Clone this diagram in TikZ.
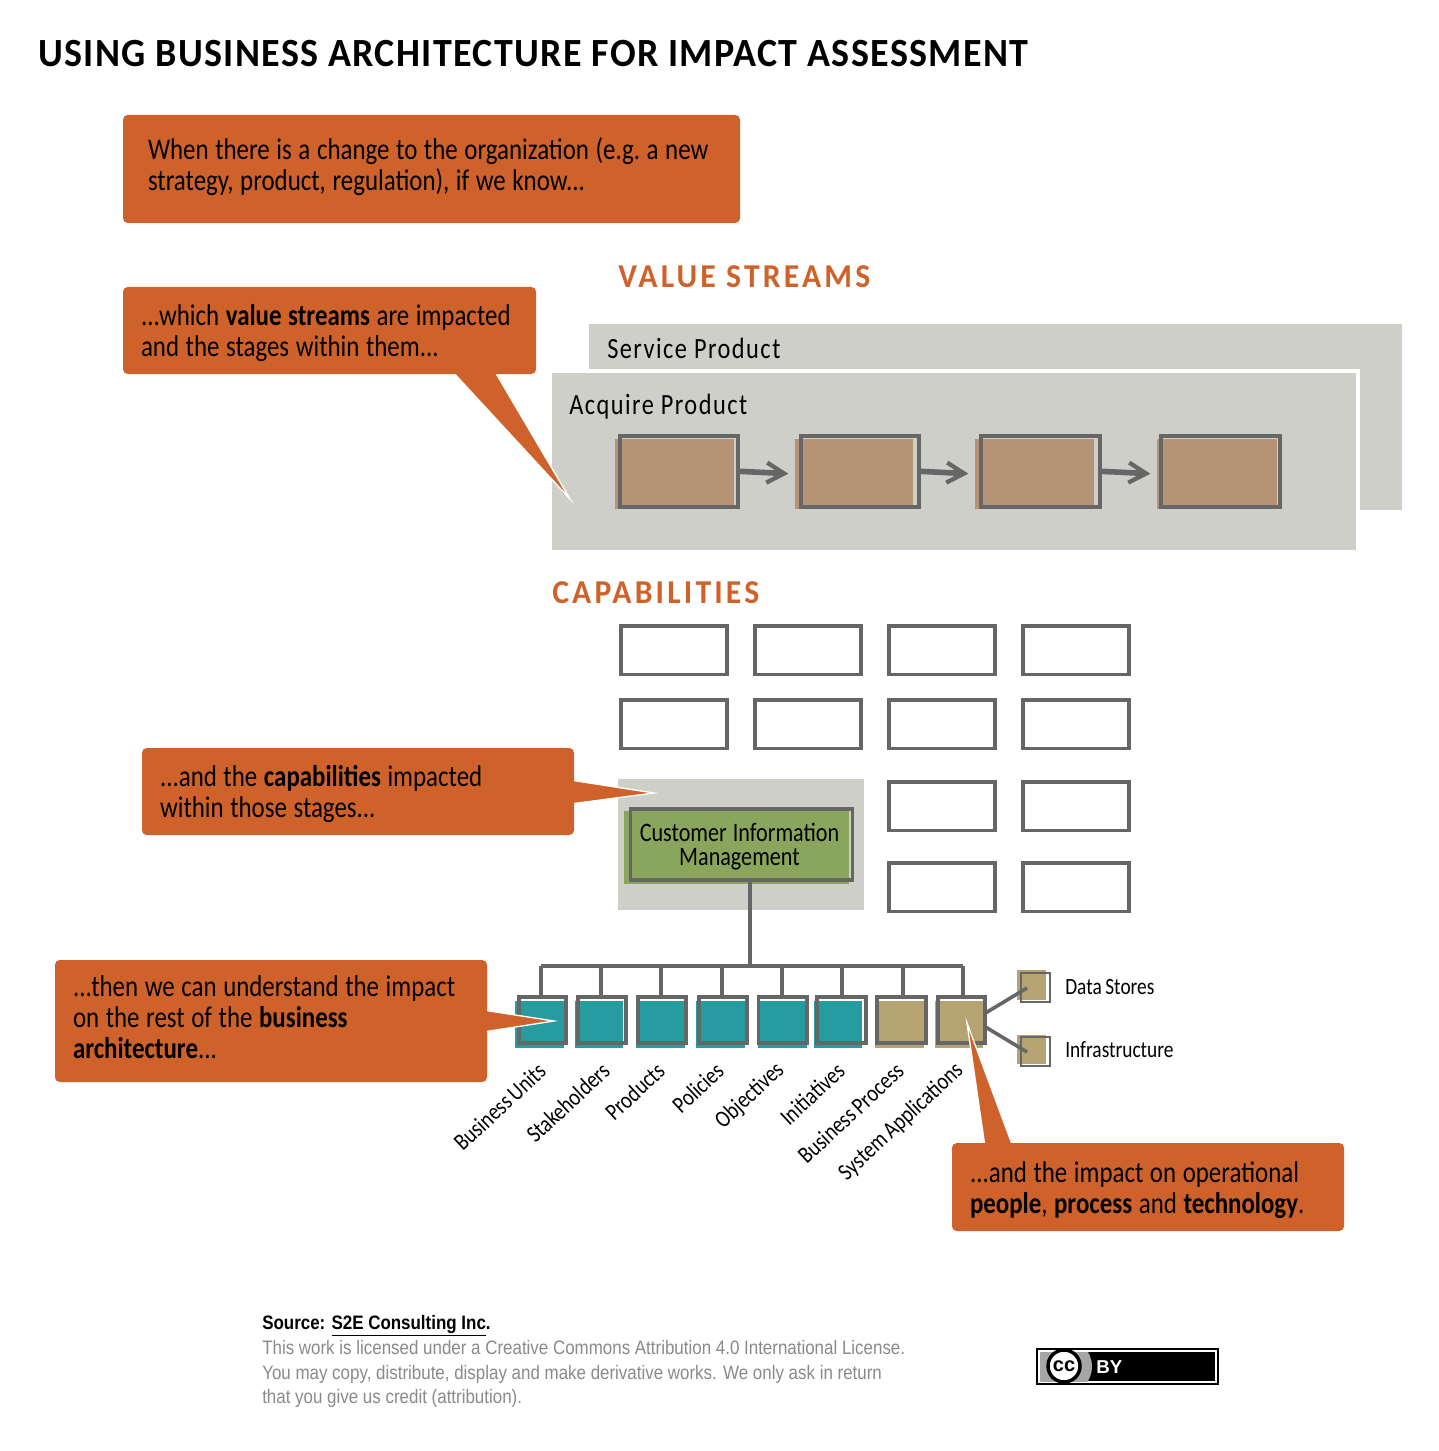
\documentclass[tikz,border=0pt]{standalone}
\usepackage{fontspec}
\usetikzlibrary{arrows.meta}
\newfontfamily\hand[FakeStretch=0.83,WordSpace=0.8]{Carlito}
\newfontfamily\handw[FakeStretch=0.83,LetterSpace=5]{Carlito}
\newfontfamily\caps[FakeStretch=0.95,LetterSpace=9.5]{Carlito}
\newfontfamily\ttlf[FakeStretch=0.95,LetterSpace=3.3]{Carlito}
\newfontfamily\foot[FakeStretch=0.87]{Liberation Sans}
\newfontfamily\badgef{Liberation Sans}
\definecolor{org}{HTML}{CE622A}
\definecolor{pan}{HTML}{CECFC8}
\definecolor{edge}{HTML}{666666}
\definecolor{brn}{HTML}{B69375}
\definecolor{grn}{HTML}{8AA65C}
\definecolor{teal2}{HTML}{259C9F}
\definecolor{tan2}{HTML}{B5A472}
\definecolor{ftxt}{HTML}{8A8A8A}
\tikzset{
  px/.style={x=0.75pt,y=-0.75pt},
  box/.style={rectangle,inner sep=0pt,outer sep=0pt,anchor=center},
  panel/.style={box,fill=pan},
  swatch/.style={box},
  frame/.style={box,draw=edge,line width=3pt,fill=none},
  thinframe/.style={box,draw=edge,line width=2pt,fill=none},
  capbox/.style={box,draw=edge,line width=2.7pt,fill=white},
  flow/.style={draw=edge,line width=4.2pt,-{Straight Barb[length=13pt,width=15pt,line width=3.2pt]},shorten >=5pt},
  tree/.style={draw=edge,line width=2.7pt},
  treethin/.style={draw=edge,line width=2.5pt},
  call/.style={rectangle,rounded corners=3.5pt,fill=org,inner ysep=0pt,outer sep=0pt,align=left,text=black,
    font=\hand\fontsize{22.5}{23.3}\selectfont},
  tail/.style={fill=org,draw=white,line width=1pt,line join=miter,miter limit=30},
  head/.style={anchor=base west,text=org,inner sep=0pt,font=\caps\bfseries\fontsize{25}{28}\selectfont},
  ttl/.style={anchor=base west,text=black,inner sep=0pt,font=\ttlf\bfseries\fontsize{30}{32}\selectfont},
  plain/.style={anchor=base west,inner sep=0pt,font=\handw\fontsize{22}{24}\selectfont},
  slant/.style={anchor=east,inner sep=0pt,rotate=43,font=\hand\fontsize{18}{19}\selectfont},
  side/.style={anchor=base west,inner sep=0pt,font=\hand\fontsize{17.5}{19}\selectfont},
  ftr/.style={anchor=base west,inner sep=0pt,text=ftxt,font=\foot\fontsize{14.6}{16}\selectfont},
}
% name, style, x1,y1,x2,y2 in pixels
\newcommand{\pbx}[6]{\node[#2,minimum width={(#5-#3)*0.75pt},minimum height={(#6-#4)*0.75pt}] (#1) at ({(#3+#5)/2},{(#4+#6)/2}) {};}
% name, padding, x1,y1,x2,y2, text
\newcommand{\calloutbox}[7]{\node[call,inner xsep=#2*0.75pt,text width={(#5-#3-2*#2)*0.75pt},minimum height={(#6-#4)*0.75pt}] (#1) at ({(#3+#5)/2},{(#4+#6)/2}) {\spaceskip=.22em\relax\xspaceskip=.22em\relax\hyphenpenalty=10000\relax\rule{0pt}{20pt}#7};}
\begin{document}
\begin{tikzpicture}[px]
\useasboundingbox[fill=white] (0,0) rectangle (1438,1451);
\node[ttl] (title) at (38,67) {USING BUSINESS ARCHITECTURE FOR IMPACT ASSESSMENT};
\node[head] (vs) at (618,288) {VALUE STREAMS};
\node[head] (cap) at (552,603) {CAPABILITIES};
% value stream panels
\pbx{svc}{panel}{589}{324}{1402}{510}
\node[plain] (svct) at (607,358) {Service Product};
\fill[white] (548,369) rectangle (1360,554);
\pbx{acq}{panel}{552}{373}{1356}{550}
\node[plain] (acqt) at (569,414) {Acquire Product};
% stages
\pbx{f1}{swatch,fill=brn}{615}{439}{734}{509}
\pbx{f2}{swatch,fill=brn}{795}{439}{913}{509}
\pbx{f3}{swatch,fill=brn}{975}{439}{1094}{509}
\pbx{f4}{swatch,fill=brn}{1157}{439}{1277}{509}
\pbx{s1}{frame}{620}{435.5}{738}{507}
\pbx{s2}{frame}{800.5}{435.5}{918.5}{507}
\pbx{s3}{frame}{981}{435.5}{1099.5}{507}
\pbx{s4}{frame}{1161}{435.5}{1280}{507}
\draw[flow] (s1.east) -- (f2.west);
\draw[flow] (s2.east) -- (f3.west);
\draw[flow] (s3.east) -- (f4.west);
% capabilities
\foreach \n/\x/\y in {a/621/626,b/755/626,c/889/626,d/1023/626,e/621/700,f/755/700,g/889/700,h/1023/700,i/889/782,j/1023/782,k/889/863,l/1023/863}
  {\pbx{cap\n}{capbox}{\x}{\y}{\x+106}{\y+48.5}}
\pbx{hl}{panel}{618}{779}{864}{910}
\pbx{cimf}{swatch,fill=grn}{624}{811}{849}{884}
\node[box,draw=edge,line width=2.8pt,minimum width={222*0.75pt},minimum height={71*0.75pt},align=center,
  font=\hand\fontsize{20}{18}\selectfont] (cim) at (741.5,844.5) {\spaceskip=.22em\relax\rule{0pt}{17pt}Customer Information\hspace*{3pt}\\Management\hspace*{3pt}};
% tree
\coordinate (bus) at (750,966);
\coordinate (busl) at (541,966);
\coordinate (busr) at (963,966);
\draw[tree] (cim.south -| bus) -- (bus);
\draw[tree,line width=3.2pt] (busl) -- (busr);
\foreach \n/\a/\b/\c/\d/\col in {1/514.5/519/564/566/teal2,2/574.5/578/623/626/teal2,3/636/638/684.5/686/teal2,4/696/699/745/747/teal2,5/757.5/758.5/806.5/807/teal2,6/814/817/862/866/teal2,7/875/877/924/926/tan2,8/934.5/938/983/985/tan2}
  {\pbx{q\n}{swatch,fill=\col}{\a}{1001}{\c}{1048}
   \pbx{o\n}{thinframe,line width=2.5pt}{\b}{997}{\d}{1043}}
\foreach \n/\x in {1/541,2/601,3/661,4/722,5/782,6/842,7/903,8/963}
  {\coordinate (st\n) at (\x,966);
   \draw[treethin] (st\n) -- (st\n |- o\n.north);}
% side items
\pbx{dsf}{swatch,fill=tan2}{1017}{970}{1046}{1000}
\pbx{ds}{thinframe}{1021}{973}{1050}{1002}
\pbx{inf}{swatch,fill=tan2}{1017}{1035}{1046}{1064}
\pbx{in}{thinframe}{1021}{1037}{1050}{1066}
\coordinate (dsin) at (1027,988);
\coordinate (inin) at (1027,1052);
\draw[tree] (o8.16) -- (dsin);
\draw[tree] (o8.-16) -- (inin);
\node[side] (dst) at (1065,994) {Data Stores};
\node[side] (int) at (1065,1057) {Infrastructure};
% rotated labels
\node[slant] (l1) at (542,1067) {Business Units};
\node[slant] (l2) at (606,1067) {Stakeholders};
\node[slant] (l3) at (661,1067) {Products};
\node[slant] (l4) at (720,1067) {Policies};
\node[slant] (l5) at (781,1067) {Objectives};
\node[slant] (l6) at (841,1067) {Initiatives};
\node[slant] (l7) at (900,1067) {Business Process};
\node[slant] (l8) at (960,1067) {System Applications};
% callouts
\calloutbox{c1}{25}{123}{115}{740}{223}{When there is a change to the organization (e.g. a new\\strategy, product, regulation), if we know...\rule[-11pt]{0pt}{1pt}}
\path[tail] (451,370) -- (570,499) -- (494,370) -- cycle;
\calloutbox{c2}{18}{123}{287}{536}{374}{...which \textbf{value streams} are impacted\\and the stages within them...}
\path[tail] (570,780) -- (654,793) -- (570,804) -- cycle;
\calloutbox{c3}{18}{142}{748}{574}{835}{...and the \textbf{capabilities} impacted\\within those stages...}
\path[tail] (483,1010) -- (554,1021) -- (483,1032) -- cycle;
\calloutbox{c4}{18}{55}{960}{487}{1082}{...then we can understand the impact\\on the rest of the \textbf{business}\\\textbf{architecture}...\rule[-10pt]{0pt}{1pt}}
\path[tail] (985,1147) -- (967,1023) -- (1013,1147) -- cycle;
\calloutbox{c5}{18}{952}{1143}{1344}{1231}{...and the impact on operational\\\textbf{people}, \textbf{process} and \textbf{technology}.}
% footer
\node[ftr,text=black,font=\foot\bfseries\fontsize{14.6}{16}\selectfont] (src) at (262,1329) {Source: \underline{S2E Consulting Inc}.};
\node[ftr] (f1t) at (262,1354) {This work is licensed under a Creative Commons Attribution 4.0 International License.};
\node[ftr] (f2t) at (262,1379) {You may copy, distribute, display and make derivative works. We only ask in return};
\node[ftr] (f3t) at (262,1403) {that you give us credit (attribution).};
% licence badge
\pbx{badge}{box,fill=black}{1036}{1348}{1219}{1385}
\pbx{binner}{box,draw=white,line width=0.8pt}{1039}{1351}{1216}{1382}
\begin{scope}
  \clip (1040,1352) rectangle (1215,1381);
  \fill[black!35] (1040,1352) rectangle (1064,1381);
  \fill[black!35] (1064,1366.5) circle[radius=21pt];
\end{scope}
\node[circle,draw=black,fill=white,line width=2.6pt,minimum size=24pt,inner sep=0pt,
  font=\badgef\bfseries\fontsize{15}{15}\selectfont] (ccm) at (1064,1366) {cc};
\node[anchor=base west,inner sep=0pt,text=white,font=\badgef\bfseries\fontsize{14}{16}\selectfont] (by) at (1096,1373) {BY};
\end{tikzpicture}
\end{document}
